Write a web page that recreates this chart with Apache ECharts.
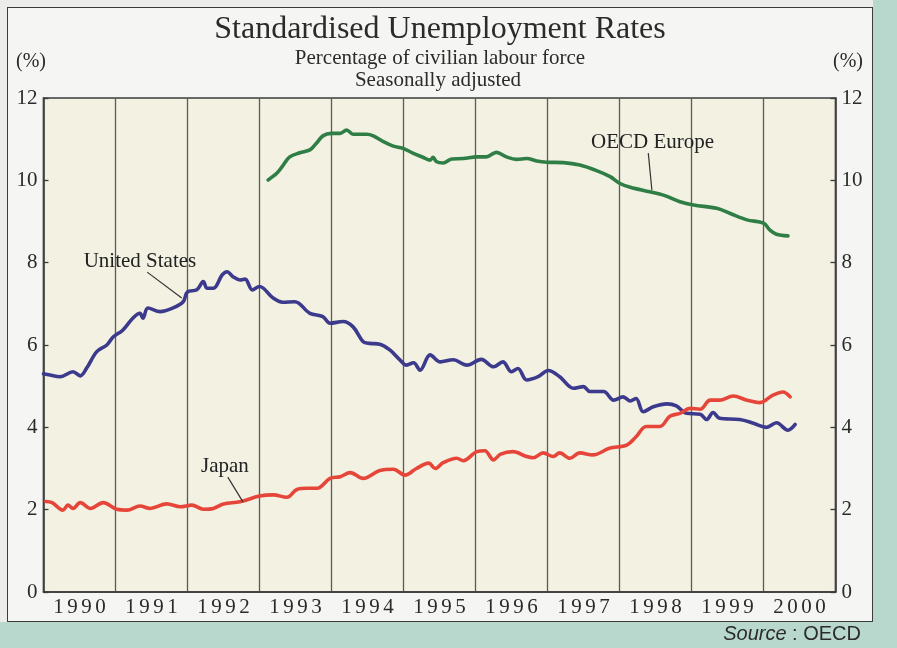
<!DOCTYPE html>
<html>
<head>
<meta charset="utf-8">
<script src="https://cdn.jsdelivr.net/npm/echarts@6/dist/echarts.min.js"></script>
<style>
  html, body { margin: 0; padding: 0; width: 897px; height: 648px; overflow: hidden; background: #b9d8cd; }
  #outer { position: absolute; left: 0; top: 0; width: 873px; height: 622px; background: #ececeb; }
  #panel { position: absolute; left: 7px; top: 7px; width: 866px; height: 615px; box-sizing: border-box;
           border: 1.5px solid #3c3c3c; background: #f5f5f3; }
  #chart { position: absolute; left: 0; top: 0; width: 897px; height: 648px; }
</style>
</head>
<body>
<div id="outer"></div>
<div id="panel"></div>
<div id="chart"></div>
<script>
// ---- Data (year as decimal, rate in %) ----
const years = ['1990','1991','1992','1993','1994','1995','1996','1997','1998','1999','2000'];
const yTicks = [0, 2, 4, 6, 8, 10, 12];

const unitedStates = [
  [1990.0,5.30],[1990.09,5.27],[1990.23,5.23],[1990.41,5.35],[1990.51,5.25],[1990.6,5.44],[1990.74,5.84],
  [1990.88,6.0],[1990.97,6.2],[1991.1,6.36],[1991.24,6.65],[1991.34,6.77],[1991.38,6.65],[1991.45,6.9],
  [1991.62,6.81],[1991.8,6.9],[1991.94,7.05],[1992.0,7.29],[1992.13,7.34],[1992.22,7.54],[1992.27,7.38],
  [1992.36,7.38],[1992.48,7.7],[1992.55,7.78],[1992.63,7.66],[1992.73,7.58],[1992.8,7.6],[1992.9,7.34],
  [1993.0,7.42],[1993.19,7.14],[1993.32,7.04],[1993.49,7.05],[1993.7,6.77],[1993.88,6.69],[1993.98,6.53],
  [1994.16,6.57],[1994.3,6.44],[1994.44,6.08],[1994.53,6.04],[1994.67,6.02],[1994.81,5.88],[1994.95,5.64],
  [1995.04,5.51],[1995.14,5.57],[1995.23,5.39],[1995.37,5.76],[1995.51,5.59],[1995.69,5.64],[1995.88,5.51],
  [1996.08,5.65],[1996.25,5.47],[1996.38,5.59],[1996.5,5.35],[1996.59,5.43],[1996.71,5.15],[1996.87,5.23],
  [1997.01,5.38],[1997.17,5.23],[1997.36,4.95],[1997.5,4.99],[1997.59,4.87],[1997.78,4.87],[1997.92,4.66],
  [1998.05,4.74],[1998.15,4.64],[1998.23,4.7],[1998.33,4.38],[1998.47,4.5],[1998.66,4.57],[1998.79,4.52],
  [1998.93,4.34],[1999.12,4.32],[1999.21,4.19],[1999.3,4.36],[1999.39,4.22],[1999.67,4.19],[1999.86,4.1],
  [2000.04,4.0],[2000.18,4.11],[2000.34,3.93],[2000.44,4.07]
];

const oecdEurope = [
  [1993.12,10.01],[1993.24,10.17],[1993.33,10.37],[1993.42,10.57],[1993.56,10.67],[1993.7,10.74],
  [1993.79,10.9],[1993.88,11.08],[1994.0,11.14],[1994.12,11.14],[1994.21,11.22],[1994.3,11.12],
  [1994.49,11.12],[1994.58,11.08],[1994.72,10.94],[1994.86,10.83],[1994.99,10.78],[1995.13,10.66],
  [1995.27,10.56],[1995.37,10.49],[1995.41,10.56],[1995.46,10.45],[1995.55,10.42],[1995.67,10.52],
  [1995.83,10.53],[1996.02,10.57],[1996.15,10.57],[1996.29,10.68],[1996.43,10.57],[1996.57,10.51],
  [1996.71,10.53],[1996.85,10.47],[1996.99,10.44],[1997.22,10.43],[1997.45,10.37],[1997.69,10.23],
  [1997.87,10.09],[1998.0,9.93],[1998.15,9.83],[1998.42,9.72],[1998.61,9.64],[1998.84,9.48],
  [1999.03,9.4],[1999.35,9.32],[1999.53,9.2],[1999.77,9.04],[2000.0,8.96],[2000.09,8.79],
  [2000.18,8.69],[2000.34,8.65]
];

const japan = [
  [1990.03,2.2],[1990.12,2.17],[1990.27,1.99],[1990.34,2.11],[1990.41,2.03],[1990.51,2.17],[1990.65,2.03],
  [1990.83,2.17],[1991.02,2.01],[1991.16,1.99],[1991.34,2.09],[1991.48,2.03],[1991.71,2.14],[1991.9,2.07],
  [1992.06,2.11],[1992.22,2.01],[1992.36,2.03],[1992.5,2.14],[1992.73,2.19],[1993.0,2.33],[1993.19,2.36],
  [1993.38,2.3],[1993.52,2.49],[1993.66,2.52],[1993.8,2.52],[1993.98,2.76],[1994.12,2.8],[1994.26,2.9],
  [1994.44,2.76],[1994.67,2.95],[1994.86,2.98],[1995.02,2.84],[1995.18,3.0],[1995.35,3.13],[1995.44,3.0],
  [1995.55,3.14],[1995.74,3.25],[1995.83,3.19],[1996.02,3.41],[1996.13,3.43],[1996.25,3.21],[1996.35,3.35],
  [1996.52,3.41],[1996.71,3.29],[1996.8,3.26],[1996.94,3.38],[1997.08,3.29],[1997.17,3.38],[1997.31,3.25],
  [1997.45,3.38],[1997.63,3.33],[1997.86,3.49],[1998.1,3.57],[1998.23,3.77],[1998.37,4.02],[1998.56,4.02],
  [1998.7,4.27],[1998.84,4.34],[1998.98,4.46],[1999.12,4.44],[1999.26,4.66],[1999.39,4.66],[1999.58,4.76],
  [1999.77,4.66],[1999.95,4.6],[2000.13,4.78],[2000.27,4.86],[2000.37,4.74]
];

// Annotation anchors in data coordinates: label point, leader start, leader end
const labelNames = ['United States', 'OECD Europe', 'Japan'];
const labelAt    = [[1991.34, 8.02], [1998.46, 10.91], [1992.52, 3.04]];
const leaderFrom = [[1991.44, 7.77], [1998.40, 10.66], [1992.56, 2.79]];
const leaderTo   = [[1991.92, 7.14], [1998.45, 9.76],  [1992.77, 2.19]];

// ---- Chart ----
const SERIF = '"Liberation Serif", "Times New Roman", serif';
const SANS = '"Liberation Sans", Arial, sans-serif';
const TXT = '#2b2b2b';
const chart = echarts.init(document.getElementById('chart'), null, { renderer: 'canvas' });

const yAxisBase = {
  type: 'value', min: 0, max: 12, interval: 2,
  axisLine: { show: true, lineStyle: { color: '#3a3a3a', width: 1.5 } },
  axisTick: { show: true, inside: true, length: 5, lineStyle: { color: '#3a3a3a', width: 1.3 } },
  splitLine: { show: false },
  axisLabel: { color: TXT, fontFamily: SERIF, fontSize: 21, margin: 6,
               formatter: v => (yTicks.indexOf(v) >= 0 ? String(v) : '') }
};

const lineSeries = (name, data, color) => ({
  name, type: 'line', xAxisIndex: 1, yAxisIndex: 0, data,
  smooth: 0.35, showSymbol: false, symbol: 'none',
  lineStyle: { color, width: 3.6, cap: 'round', join: 'round' },
  z: 5
});

chart.setOption({
  animation: false,
  grid: { left: 43.5, right: 61.5, top: 98, bottom: 56, show: true,
          backgroundColor: '#f3f1e2', borderColor: '#3a3a3a', borderWidth: 1.5 },
  xAxis: [
    { type: 'category', data: years, position: 'bottom', boundaryGap: true,
      axisLine: { show: true, lineStyle: { color: '#3a3a3a', width: 1.5 } },
      axisTick: { show: false },
      splitLine: { show: true, interval: 0, lineStyle: { color: '#5a5a5a', width: 1.3 } },
      axisLabel: { color: TXT, fontFamily: SERIF, fontSize: 21, margin: 5, interval: 0,
        formatter: v => v.split('').map(c => '{d|' + c + '}').join(''),
        rich: { d: { width: 14, align: 'center', fontFamily: SERIF, fontSize: 21, color: TXT } } } },
    { type: 'value', min: 1990, max: 2001, show: false }
  ],
  yAxis: [
    Object.assign({}, yAxisBase, { position: 'left' }),
    Object.assign({}, yAxisBase, { position: 'right' })
  ],
  series: [
    lineSeries('OECD Europe', oecdEurope, '#2f7e46'),
    lineSeries('United States', unitedStates, '#3c3a8c'),
    lineSeries('Japan', japan, '#e6463a'),
    { type: 'line', yAxisIndex: 1, xAxisIndex: 1, data: [], showSymbol: false }
  ]
});

const gfx = [
  { type: 'text', x: 440, y: 30, style: { text: 'Standardised Unemployment Rates', font: '32px ' + SERIF,
      fill: TXT, textAlign: 'center', textVerticalAlign: 'middle' } },
  { type: 'text', x: 440, y: 58, style: { text: 'Percentage of civilian labour force', font: '21px ' + SERIF,
      fill: TXT, textAlign: 'center', textVerticalAlign: 'middle' } },
  { type: 'text', x: 438, y: 80, style: { text: 'Seasonally adjusted', font: '21px ' + SERIF,
      fill: TXT, textAlign: 'center', textVerticalAlign: 'middle' } },
  { type: 'text', x: 31, y: 62, style: { text: '(%)', font: '20px ' + SERIF, fill: TXT,
      textAlign: 'center', textVerticalAlign: 'middle' } },
  { type: 'text', x: 848, y: 62, style: { text: '(%)', font: '20px ' + SERIF, fill: TXT,
      textAlign: 'center', textVerticalAlign: 'middle' } },
  { type: 'text', x: 861, y: 634, style: {
      text: '{i|Source} : OECD', textAlign: 'right', textVerticalAlign: 'middle',
      font: '20px ' + SANS, fill: '#2b2b2b',
      rich: { i: { fontStyle: 'italic', fontSize: 20, fontFamily: SANS, fill: '#2b2b2b' } } } }
];

for (let i = 0; i < labelNames.length; i++) {
  const p = chart.convertToPixel({ xAxisIndex: 1, yAxisIndex: 0 }, labelAt[i]);
  const a = chart.convertToPixel({ xAxisIndex: 1, yAxisIndex: 0 }, leaderFrom[i]);
  const b = chart.convertToPixel({ xAxisIndex: 1, yAxisIndex: 0 }, leaderTo[i]);
  gfx.push({ type: 'text', x: p[0], y: p[1], z: 10, style: { text: labelNames[i], font: '21px ' + SERIF,
      fill: '#222', textAlign: 'center', textVerticalAlign: 'middle' } });
  gfx.push({ type: 'line', z: 10, shape: { x1: a[0], y1: a[1], x2: b[0], y2: b[1] },
      style: { stroke: '#333', lineWidth: 1.2 } });
}
chart.setOption({ graphic: gfx });
</script>
</body>
</html>
